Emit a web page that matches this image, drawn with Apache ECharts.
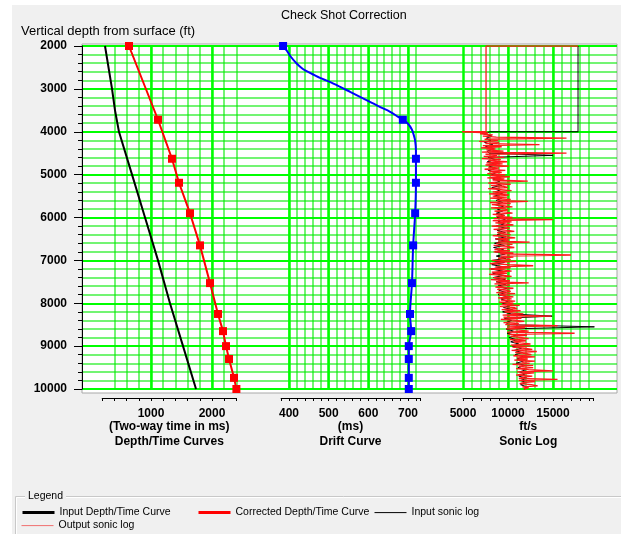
<!DOCTYPE html>
<html>
<head>
<meta charset="utf-8">
<script src="https://cdn.jsdelivr.net/npm/echarts@6/dist/echarts.min.js"></script>
<style>
  html, body { margin: 0; padding: 0; background: #ffffff; }
  #chart { width: 621px; height: 534px; }
</style>
</head>
<body>
<div id="chart"></div>
<script>
// Check shot depths (ft) shared by the corrected curve and the drift markers
const checkShotDepths = [2000, 3720, 4630, 5190, 5900, 6650, 7530, 8250, 8650, 9000, 9300, 9740, 10000];
// Corrected two-way time (ms) at each check shot
const correctedTimes = [639, 1115, 1344, 1459, 1639, 1803, 1967, 2098, 2180, 2230, 2279, 2361, 2400];
// Drift (ms) at each check shot
const driftAtShots = [385, 687, 720, 720, 718, 713, 710, 705, 708, 702, 702, 702, 702];

// Input depth/time curve
const inputDepths = [2000, 3000, 3500, 4000, 5000, 6000, 7000, 8000, 9000, 10000];
const inputTimes = [246, 361, 410, 475, 689, 902, 1115, 1311, 1525, 1738];

// Fitted drift curve
const driftCurveDepths = [2000, 2116, 2233, 2395, 2535, 2628, 2744, 2837, 2953, 3070, 3186, 3302, 3419, 3535, 3651, 3721, 3814, 3953, 4093, 4209, 4442, 4628, 5186, 5907, 6651, 7535, 8256, 8651, 9000, 9302, 9744, 10000];
const driftCurveValues = [385, 395, 403, 418, 435, 453, 478, 503, 529, 554, 579, 604, 629, 655, 675, 687, 700, 710, 715, 718, 720, 720, 720, 718, 713, 710, 705, 708, 702, 702, 702, 702];

// Sonic logs: constant fill above the logged interval, then samples from 4000 ft
const sonicLogTop = 4000;
const inputSonicHead = [[17780, 2000], [17780, 4000]];
const outputSonicHead = [[17780, 2000], [7560, 2000], [7560, 3995]];

// Input sonic log (ft/s), one sample per 50 ft from 4000 ft
const inputSonicStep = 50;
const inputSonicValues = [
  8000, 7300, 8200, 7600, 8100, 7400, 8300, 7500, 8400, 7700,
  7900, 15000, 7800, 8600, 7700, 8500, 7900, 8600, 7800, 8700,
  8200, 9200, 8300, 9100, 8500, 9300, 8200, 9200, 8600, 9400,
  8500, 9300, 8700, 9400, 8600, 9500, 8800, 9400, 8700, 9600,
  8800, 9700, 8900, 9600, 8700, 9800, 8800, 9700, 8800, 9800,
  8600, 9700, 8500, 9600, 8400, 9500, 8600, 9700, 8700, 9800,
  8300, 9600, 8200, 9500, 8100, 9400, 8300, 9500, 8400, 9700,
  8700, 9800, 8900, 9900, 9000, 9800, 8900, 10000, 9200, 10000,
  9400, 10300, 9500, 10500, 9400, 10400, 14900, 9600, 10400, 9800,
  10000, 19600, 9800, 10600, 9900, 10900, 10100, 11000, 10300, 11200,
  10500, 11500, 10700, 11600, 10800, 11800, 11000, 11700, 10900, 11900,
  11100, 12000, 11300, 11900, 11200, 12100, 11400, 12000, 11400, 12100,
  11800, 11900
];

// Output (corrected) sonic log (ft/s), one sample per 25 ft from 4000 ft
const outputSonicStep = 25;
const outputSonicValues = [
  4900, 7800, 6900, 8300, 7200, 8700, 16500, 7400, 8900, 6800, 9000, 7500, 13500, 7200, 9300, 7000, 8600, 7600, 9500, 7100,
  16500, 7500, 8800, 7300, 9600, 7100, 9200, 7800, 9900, 7600, 9400, 7500, 10100, 7800, 9000, 7400, 9700, 8000, 9300, 7700,
  9700, 8000, 10200, 7700, 9600, 8300, 12200, 8600, 7800, 10300, 8100, 9500, 10000, 7800, 9200, 10400, 8300, 9900, 7900, 10100,
  8300, 9900, 8000, 10300, 8800, 12200, 8000, 10300, 8200, 9400, 10500, 8100, 9700, 10000, 8500, 9800, 10500, 8300, 9600, 8700,
  10500, 8400, 15000, 8300, 10400, 8600, 9700, 10600, 8200, 9800, 10200, 8400, 10000, 10700, 8800, 9500, 10300, 8300, 9900, 10800,
  8600, 10100, 8900, 12400, 8700, 10500, 8400, 9900, 10700, 9000, 8500, 10200, 8400, 10600, 9100, 17000, 9200, 10600, 8900, 10300,
  8200, 10900, 8700, 8000, 10100, 12800, 8600, 10300, 7900, 9600, 10400, 8200, 9900, 7900, 9500, 10400, 8400, 9800, 8100, 10200,
  8700, 12300, 8500, 10200, 9300, 8600, 10600, 8800, 9900, 10300, 8700, 10800, 9000, 9600, 10600, 8900, 10400, 9200, 10800, 9000,
  10600, 9300, 11300, 9100, 10700, 11000, 9300, 11400, 9600, 10500, 11700, 9400, 14800, 9500, 11500, 9200, 10900, 11800, 9500, 11200,
  9700, 15500, 9900, 11900, 9800, 11300, 12300, 9900, 17400, 10000, 12100, 10300, 11500, 12300, 10200, 12000, 10600, 11400, 12500, 10300,
  12500, 10500, 11800, 12700, 10400, 13200, 10800, 12100, 12600, 10600, 13000, 11000, 12200, 10700, 13000, 11500, 12400, 10500, 12800, 11200,
  12800, 10900, 12300, 15000, 11000, 12900, 11600, 10900, 12700, 11800, 11200, 15500, 11200, 13000, 11700, 11300, 12600, 13300, 11600, 12300,
  11800, 12000, 11900
];

// Tick values that carry the bold grid lines and the labels
const timeMajorTicks = [1000, 2000];
const driftMajorTicks = [400, 500, 600, 700];
const sonicMajorTicks = [5000, 10000, 15000];

const pairs = (xs, ys) => xs.map((x, i) => [x, ys[i]]);
const logSamples = (values, top, step) => values.map((v, i) => [v, top + i * step]);

const FONT = 'Liberation Sans';
const MAJOR_GREEN = '#00ff00';
const MINOR_GREEN = 'rgba(0, 235, 0, 0.55)';
const TOP = 46, HEIGHT = 343;

function depthAxis(gridIndex, visible) {
  return {
    type: 'value', gridIndex: gridIndex, min: 2000, max: 10000, interval: 1000, inverse: true,
    show: visible,
    offset: 2,
    axisLine: { show: true, lineStyle: { color: '#000', width: 1 } },
    axisTick: { show: true, length: 8, lineStyle: { color: '#000' } },
    minorTick: { show: true, splitNumber: 5, length: 4, lineStyle: { color: '#000' } },
    axisLabel: {
      show: true, margin: 13, color: '#000', fontFamily: FONT, fontWeight: 'bold', fontSize: 12,
      formatter: v => String(v)
    },
    splitLine: { show: true, lineStyle: { color: MAJOR_GREEN, width: 2 } },
    minorSplitLine: { show: true, lineStyle: { color: MINOR_GREEN, width: 2 } }
  };
}

function panelAxis(gridIndex, min, max, step, majors, name) {
  return {
    type: 'value', gridIndex: gridIndex, min: min, max: max, interval: step,
    position: 'bottom', offset: 9,
    name: name, nameLocation: 'middle', nameGap: 21, nameMoveOverlap: false,
    nameTextStyle: { color: '#000', fontFamily: FONT, fontWeight: 'bold', fontSize: 12, lineHeight: 15 },
    axisLine: { show: true, lineStyle: { color: '#000', width: 1 } },
    axisTick: { show: true, length: 3, lineStyle: { color: '#000' } },
    axisLabel: {
      show: true, margin: 10, color: '#000', fontFamily: FONT, fontWeight: 'bold', fontSize: 12,
      showMinLabel: true, showMaxLabel: true, hideOverlap: false,
      formatter: v => (majors.indexOf(v) >= 0 ? String(v) : '')
    },
    splitLine: { show: true, showMinLine: false, showMaxLine: gridIndex === 1, lineStyle: { color: MINOR_GREEN, width: 2 } }
  };
}

function majorLines(xAxisIndex, yAxisIndex, ticks) {
  return {
    type: 'line', xAxisIndex: xAxisIndex, yAxisIndex: yAxisIndex, data: [], z: 1, silent: true,
    markLine: {
      silent: true, symbol: ['none', 'none'], animation: false, z: 1,
      label: { show: false },
      lineStyle: { color: MAJOR_GREEN, width: 2.5, type: 'solid' },
      emphasis: { disabled: true },
      data: ticks.map(v => ({ xAxis: v }))
    }
  };
}

function legendBox(left, top, name, color, width) {
  return {
    left: left, top: top, padding: 0, itemWidth: 32, itemHeight: 14, selectedMode: false,
    itemStyle: { opacity: 0 },
    textStyle: { color: '#000', fontFamily: FONT, fontSize: 10.5 },
    data: [{ name: name, lineStyle: { color: color, width: width }, itemStyle: { opacity: 0 } }]
  };
}

const chart = echarts.init(document.getElementById('chart'), null, { renderer: 'canvas' });

chart.setOption({
  animation: false,
  backgroundColor: '#ffffff',
  graphic: [
    { type: 'rect', z: -10, shape: { x: 12, y: 5, width: 609, height: 529 }, style: { fill: '#f0f0f0' } },
    { type: 'rect', z: -9, shape: { x: 82, y: 44, width: 535, height: 349 }, style: { fill: '#ffffff', stroke: '#a8a8a8', lineWidth: 1 } },
    { type: 'text', z: 5, left: 281, top: 9, style: { text: 'Check Shot Correction', fill: '#000', font: '12.5px "Liberation Sans"' } },
    { type: 'text', z: 5, left: 21, top: 25, style: { text: 'Vertical depth from surface (ft)', fill: '#000', font: '13px "Liberation Sans"' } },
    { type: 'polyline', z: -8, shape: { points: [[25, 496.5], [15.5, 496.5], [15.5, 534]] }, style: { stroke: '#c8c8c8', lineWidth: 1, fill: null } },
    { type: 'polyline', z: -8, shape: { points: [[66, 496.5], [621, 496.5]] }, style: { stroke: '#c8c8c8', lineWidth: 1, fill: null } },
    { type: 'polyline', z: -8, shape: { points: [[25, 497.5], [16.5, 497.5], [16.5, 534]] }, style: { stroke: '#ffffff', lineWidth: 1, fill: null } },
    { type: 'polyline', z: -8, shape: { points: [[66, 497.5], [621, 497.5]] }, style: { stroke: '#ffffff', lineWidth: 1, fill: null } },
    { type: 'text', z: 5, left: 28, top: 491, style: { text: 'Legend', fill: '#000', font: '10.5px "Liberation Sans"' } }
  ],
  legend: [
    legendBox(21, 507, 'Input Depth/Time Curve', '#000000', 3),
    legendBox(197, 507, 'Corrected Depth/Time Curve', '#ff0000', 3),
    legendBox(374, 507, 'Input sonic log', '#000000', 1),
    legendBox(21, 520, 'Output sonic log', '#f07070', 1)
  ],
  grid: [
    { left: 82, top: TOP, width: 535, height: HEIGHT, outerBoundsMode: 'none' },
    { left: 102.2, top: TOP, width: 134.2, height: HEIGHT, outerBoundsMode: 'none' },
    { left: 281.1, top: TOP, width: 138.8, height: HEIGHT, outerBoundsMode: 'none' },
    { left: 463, top: TOP, width: 130.5, height: HEIGHT, outerBoundsMode: 'none' }
  ],
  xAxis: [
    { type: 'value', gridIndex: 0, min: 0, max: 1, show: false, splitLine: { show: false } },
    panelAxis(1, 200, 2400, 200, timeMajorTicks, '(Two-way time in ms)\nDepth/Time Curves'),
    panelAxis(2, 380, 730, 20, driftMajorTicks, '(ms)\nDrift Curve'),
    panelAxis(3, 5000, 19500, 1000, sonicMajorTicks, 'ft/s\nSonic Log')
  ],
  yAxis: [
    depthAxis(0, true),
    depthAxis(1, false),
    depthAxis(2, false),
    depthAxis(3, false)
  ],
  series: [
    majorLines(1, 1, timeMajorTicks),
    majorLines(2, 2, driftMajorTicks),
    majorLines(3, 3, sonicMajorTicks),
    {
      name: 'Input Depth/Time Curve', type: 'line', xAxisIndex: 1, yAxisIndex: 1, z: 3,
      data: pairs(inputTimes, inputDepths), symbol: 'none', showSymbol: false,
      lineStyle: { color: '#000000', width: 2 }, itemStyle: { color: '#000000' }
    },
    {
      name: 'Corrected Depth/Time Curve', type: 'line', xAxisIndex: 1, yAxisIndex: 1, z: 4,
      data: pairs(correctedTimes, checkShotDepths), symbol: 'rect', symbolSize: 8, showAllSymbol: true,
      lineStyle: { color: '#ff0000', width: 2 }, itemStyle: { color: '#ff0000' }
    },
    {
      name: 'Drift', type: 'line', xAxisIndex: 2, yAxisIndex: 2, z: 3, smooth: 0.3,
      data: pairs(driftCurveValues, driftCurveDepths), symbol: 'none', showSymbol: false,
      lineStyle: { color: '#0000ff', width: 2 }, itemStyle: { color: '#0000ff' }
    },
    {
      name: 'Drift points', type: 'scatter', xAxisIndex: 2, yAxisIndex: 2, z: 4,
      data: pairs(driftAtShots, checkShotDepths), symbol: 'rect', symbolSize: 8,
      itemStyle: { color: '#0000ff', opacity: 1 }
    },
    {
      name: 'Input sonic log', type: 'line', xAxisIndex: 3, yAxisIndex: 3, z: 3,
      data: inputSonicHead.concat(logSamples(inputSonicValues, sonicLogTop, inputSonicStep)),
      symbol: 'none', showSymbol: false,
      lineStyle: { color: '#000000', width: 1 }, itemStyle: { color: '#000000' }
    },
    {
      name: 'Output sonic log', type: 'line', xAxisIndex: 3, yAxisIndex: 3, z: 4,
      data: outputSonicHead.concat(logSamples(outputSonicValues, sonicLogTop, outputSonicStep)),
      symbol: 'none', showSymbol: false,
      lineStyle: { color: '#ff1a1a', width: 1.3 }, itemStyle: { color: '#ff1a1a' }
    }
  ]
});
</script>
</body>
</html>
